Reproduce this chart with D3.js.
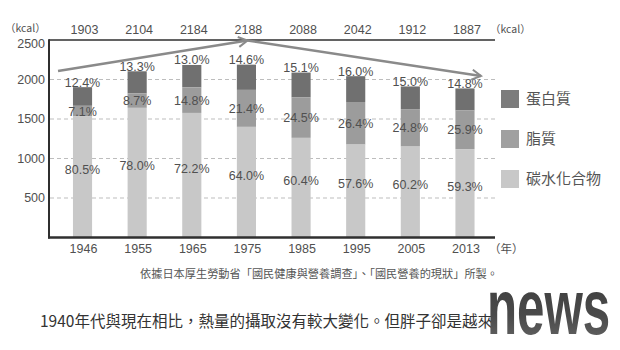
<!DOCTYPE html>
<html><head><meta charset="utf-8">
<script src="https://cdn.jsdelivr.net/npm/d3@7/dist/d3.min.js"></script>
<style>
html,body{margin:0;padding:0;background:#fff;}
svg{display:block;}
</style></head>
<body>
<svg id="chart" width="620" height="350"></svg>
<script>
const years = ["1946","1955","1965","1975","1985","1995","2005","2013"];
const totals = [1903, 2104, 2184, 2188, 2088, 2042, 1912, 1887];
const protein = [12.4, 13.3, 13.0, 14.6, 15.1, 16.0, 15.0, 14.8];
const fat = [7.1, 8.7, 14.8, 21.4, 24.5, 26.4, 24.8, 25.9];
const carb = [80.5, 78.0, 72.2, 64.0, 60.4, 57.6, 60.2, 59.3];
const yTicks = [500, 1000, 1500, 2000, 2500];
const seriesNames = ["蛋白質", "脂質", "碳水化合物"];
const seriesColors = ["#707070", "#9c9c9c", "#c8c8c8"];
const legendColors = ["#7c7c7c", "#a0a0a0", "#c8c8c8"];
// trend arrow anchor kcal values (start, peak, end)
const trendKcal = [2108, 2500, 2044];
const sourceNote = "依據日本厚生勞動省「國民健康與營養調查」、「國民營養的現狀」所製。";
const caption = "1940年代與現在相比，熱量的攝取沒有較大變化。但胖子卻是越來";

const svg = d3.select("#chart");
const NUM = "'Liberation Sans', Arial, sans-serif";
const CJK = "'Noto Sans CJK TC', 'Noto Sans CJK SC', sans-serif";
const txt = "#505050";

const x = d3.scaleBand().domain(years).range([55.2, 492.3]).paddingInner(0.65).paddingOuter(0.325);
const y = d3.scaleLinear().domain([0, 2500]).range([237.5, 40]);
const bw = x.bandwidth();
const cx = d => x(d) + bw / 2;

// gridlines
svg.append("g").selectAll("line").data(yTicks.filter(t => t < 2500)).join("line")
  .attr("x1", 50).attr("x2", 498)
  .attr("y1", d => y(d)).attr("y2", d => y(d))
  .attr("stroke", "#bdbdbd").attr("stroke-width", 1).attr("stroke-dasharray", "4,3");

// y tick labels
svg.append("g").selectAll("text").data(yTicks).join("text")
  .attr("x", 45).attr("y", d => y(d) + (d === 2500 ? 3.5 : 0)).attr("dy", "0.35em")
  .attr("text-anchor", "end").attr("font-family", NUM).attr("font-size", 12.5)
  .attr("fill", txt).text(d => d);

// bars
const rows = years.map((yr, i) => {
  const t = totals[i];
  const c = t * carb[i] / 100, f = t * fat[i] / 100;
  return {yr, t, segs: [
    {k: 0, y0: c + f, y1: t},
    {k: 1, y0: c, y1: c + f},
    {k: 2, y0: 0, y1: c}
  ], i};
});
const bars = svg.append("g");
rows.forEach(r => {
  bars.selectAll(null).data(r.segs).join("rect")
    .attr("x", x(r.yr)).attr("width", bw)
    .attr("y", s => y(s.y1)).attr("height", s => y(s.y0) - y(s.y1))
    .attr("fill", s => seriesColors[s.k]);
});

// labels
const lab = svg.append("g").attr("font-family", NUM).attr("font-size", 12.5).attr("fill", txt)
  .attr("text-anchor", "middle");
rows.forEach(r => {
  const i = r.i;
  const s = r.segs;
  lab.append("text").attr("x", cx(r.yr)).attr("y", y(s[0].y1) - 5).attr("dy", "0.35em").text(protein[i].toFixed(1) + "%");
  lab.append("text").attr("x", cx(r.yr)).attr("y", (y(s[1].y0) + y(s[1].y1)) / 2).attr("dy", "0.35em").text(fat[i].toFixed(1) + "%");
  lab.append("text").attr("x", cx(r.yr)).attr("y", (y(s[2].y0) + y(s[2].y1)) / 2 - 7).attr("dy", "0.35em").text(carb[i].toFixed(1) + "%");
});

// top totals
svg.append("g").selectAll("text").data(totals).join("text")
  .attr("x", (d, i) => cx(years[i]) + 2).attr("y", 30).attr("dy", "0.35em")
  .attr("text-anchor", "middle").attr("font-family", NUM).attr("font-size", 12.5)
  .attr("fill", txt).text(d => d);

// x axis labels
svg.append("g").selectAll("text").data(years).join("text")
  .attr("x", d => cx(d) + 1).attr("y", 249).attr("dy", "0.35em")
  .attr("text-anchor", "middle").attr("font-family", NUM).attr("font-size", 12.5)
  .attr("fill", txt).text(d => d);

// unit labels
svg.append("text").attr("x", 5).attr("y", 28).attr("dy", "0.35em")
  .attr("font-family", CJK).attr("font-size", 10.5).attr("fill", txt).text("（kcal）");
svg.append("text").attr("x", 490).attr("y", 29).attr("dy", "0.35em")
  .attr("font-family", CJK).attr("font-size", 10.5).attr("fill", txt).text("（kcal）");
svg.append("text").attr("x", 489).attr("y", 249).attr("dy", "0.35em")
  .attr("font-family", CJK).attr("font-size", 11.5).attr("fill", txt).text("（年）");

// axes lines
svg.append("line").attr("x1", 49).attr("x2", 495).attr("y1", y(2500)).attr("y2", y(2500))
  .attr("stroke", "#2f2f2f").attr("stroke-width", 1.5);
svg.append("line").attr("x1", 49).attr("x2", 49).attr("y1", y(2500) - 0.7).attr("y2", y(0) + 1)
  .attr("stroke", "#2f2f2f").attr("stroke-width", 2);
svg.append("line").attr("x1", 48).attr("x2", 495).attr("y1", y(0)).attr("y2", y(0))
  .attr("stroke", "#2f2f2f").attr("stroke-width", 2.5);

// trend arrows
const defs = svg.append("defs");
defs.append("marker").attr("id", "chev").attr("viewBox", "0 0 12 12")
  .attr("refX", 10).attr("refY", 6).attr("markerWidth", 12).attr("markerHeight", 12)
  .attr("markerUnits", "userSpaceOnUse").attr("orient", "auto")
  .append("path").attr("d", "M1,1 L10,6 L1,11").attr("fill", "none")
  .attr("stroke", "#8a8a8a").attr("stroke-width", 2);
const p0 = [cx("1946") - 24.5, y(trendKcal[0])];
const p1 = [cx("1975") + 1, y(trendKcal[1]) + 0.5];
const p2 = [cx("2013") + 16, y(trendKcal[2])];
svg.append("line").attr("x1", p0[0]).attr("y1", p0[1]).attr("x2", p1[0]).attr("y2", p1[1])
  .attr("stroke", "#8a8a8a").attr("stroke-width", 2.5).attr("marker-end", "url(#chev)");
svg.append("line").attr("x1", p1[0]).attr("y1", p1[1]).attr("x2", p2[0]).attr("y2", p2[1])
  .attr("stroke", "#8a8a8a").attr("stroke-width", 2.5).attr("marker-end", "url(#chev)");

// legend
const leg = svg.append("g");
seriesNames.forEach((n, i) => {
  leg.append("rect").attr("x", 501).attr("y", 90 + i * 40).attr("width", 18).attr("height", 18)
    .attr("fill", legendColors[i]);
  leg.append("text").attr("x", 526).attr("y", 99 + i * 40).attr("dy", "0.36em")
    .attr("font-family", CJK).attr("font-size", 15).attr("fill", "#555").text(n);
});

// source note
svg.append("text").attr("x", 319).attr("y", 274).attr("dy", "0.36em").attr("text-anchor", "middle")
  .attr("font-family", CJK).attr("font-size", 11.2).attr("fill", "#555").text(sourceNote);

// caption
svg.append("text").attr("x", 40).attr("y", 321).attr("dy", "0.36em")
  .attr("font-family", CJK).attr("font-size", 15.5).attr("fill", "#333").text(caption);

// watermark logo
const grad = defs.append("linearGradient").attr("id", "lg").attr("x1", 0).attr("x2", 0).attr("y1", 0).attr("y2", 1);
grad.append("stop").attr("offset", "0").attr("stop-color", "#3a3a3a");
grad.append("stop").attr("offset", "0.6").attr("stop-color", "#4a4a4a");
grad.append("stop").attr("offset", "1").attr("stop-color", "#6a6a6a");
svg.append("text").attr("transform", "translate(487,333.5) scale(0.64,1)")
  .attr("font-family", "'Liberation Sans', Arial, sans-serif").attr("font-weight", "bold")
  .attr("font-size", 77).attr("fill", "url(#lg)").text("news");
</script>
</body></html>
